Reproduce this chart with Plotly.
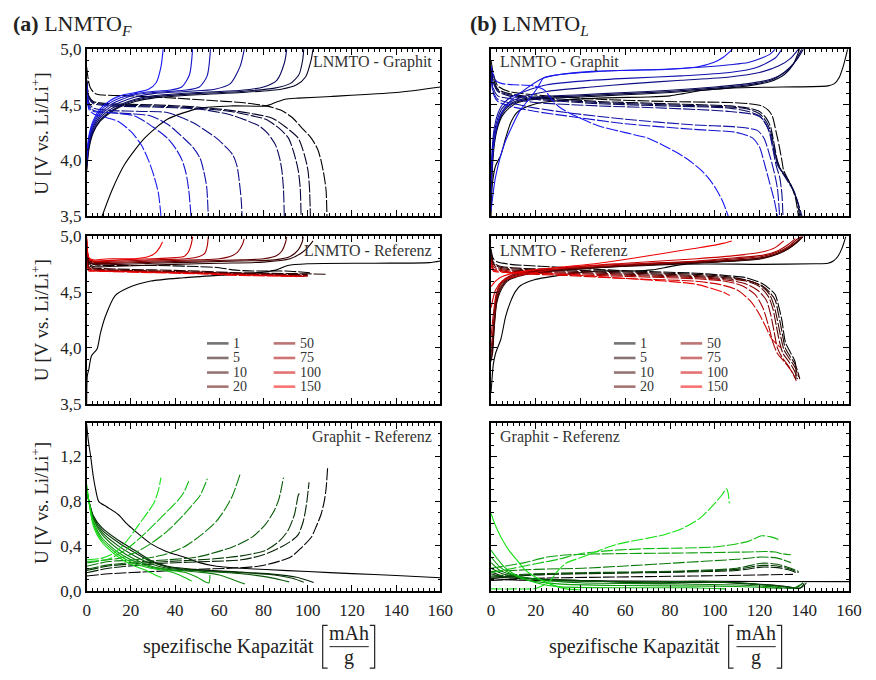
import plotly.graph_objects as go
from plotly.subplots import make_subplots

# ---------------- data ----------------
RATES = [1, 5, 10, 20, 50, 75, 100, 150]
X_TICKS = [0, 20, 40, 60, 80, 100, 120, 140, 160]
Y_TICKS_LNMTO = [3.5, 4.0, 4.5, 5.0]
Y_TICKS_GRAPHIT = [0.0, 0.4, 0.8, 1.2]
PANEL_TEXT = ["LNMTO - Graphit", "LNMTO - Referenz", "Graphit - Referenz"]

# (a) LNMTO_F - Graphit : charge (solid), discharge (dashed); one list per rate
A1_SOLID = [
    [(7,3.5),(11.4,3.73),(17.2,3.965),(26.2,4.2),(36.5,4.37),(51.3,4.47),(66,4.49),(81,4.49),(85.4,4.52),(89.8,4.55),(95.7,4.56),(110.5,4.575),(140,4.61),(160,4.66)],
    [(0,3.9),(1,4.1),(3,4.25),(6,4.35),(10,4.42),(15,4.48),(22,4.53),(30,4.56),(50,4.59),(70,4.61),(88,4.64),(95,4.68),(99,4.75),(101.5,4.9),(102.4,5.0)],
    [(0,3.92),(1,4.12),(3,4.26),(6,4.36),(10,4.43),(15,4.49),(22,4.54),(30,4.57),(50,4.6),(70,4.62),(85,4.65),(92,4.69),(96,4.77),(97.7,4.9),(98.2,5.0)],
    [(0,3.95),(1,4.14),(3,4.28),(6,4.38),(10,4.45),(15,4.5),(22,4.55),(30,4.58),(50,4.61),(70,4.63),(80,4.66),(86,4.72),(89.5,4.88),(90.5,5.0)],
    [(0,3.97),(1,4.16),(3,4.3),(6,4.4),(10,4.47),(15,4.52),(22,4.57),(30,4.6),(45,4.62),(58,4.64),(65,4.69),(69.5,4.85),(71.3,5.0)],
    [(0,4.0),(1,4.18),(3,4.32),(6,4.42),(10,4.49),(15,4.54),(22,4.59),(30,4.61),(44,4.63),(51,4.66),(54.5,4.76),(56,5.0)],
    [(0,4.0),(1,4.2),(3,4.34),(6,4.44),(10,4.51),(15,4.56),(22,4.6),(30,4.62),(37,4.63),(43,4.66),(46.5,4.77),(47.9,5.0)],
    [(0,4.02),(1,4.22),(3,4.36),(6,4.46),(10,4.53),(15,4.58),(22,4.61),(28,4.64),(31.5,4.7),(33.6,4.84),(34.6,5.0)],
]
A1_DASHED = [
    [(0,4.84),(1.5,4.66),(4,4.6),(20,4.58),(40,4.56),(55,4.54),(70,4.52),(81,4.49),(88,4.45),(92.7,4.39),(97,4.3),(101.6,4.2),(104.5,4.1),(106,4.0),(107.5,3.85),(108.3,3.73),(108.7,3.5)],
    [(0,4.72),(1,4.58),(3,4.53),(10,4.51),(30,4.5),(50,4.48),(65,4.45),(75,4.42),(84,4.38),(90,4.3),(95.7,4.2),(98.5,4.05),(100.1,3.91),(100.8,3.75),(101.2,3.5)],
    [(0,4.72),(1,4.57),(3,4.52),(10,4.5),(30,4.49),(50,4.47),(65,4.44),(75,4.4),(81,4.37),(87,4.29),(91.3,4.2),(94,4.05),(95.7,3.91),(96.6,3.75),(97,3.5)],
    [(0,4.72),(1,4.56),(3,4.51),(10,4.49),(30,4.48),(51,4.46),(65,4.41),(78,4.31),(82,4.24),(85.4,4.14),(87.3,4.02),(88.3,3.91),(89,3.75),(89.4,3.5)],
    [(0,4.7),(1,4.52),(3,4.47),(10,4.45),(25,4.44),(36.5,4.43),(48,4.34),(58.7,4.2),(63,4.12),(66.1,4.05),(68,3.95),(69,3.82),(69.9,3.65),(70.3,3.5)],
    [(0,4.7),(1,4.5),(3,4.45),(10,4.43),(20,4.42),(29,4.4),(37,4.32),(43.9,4.2),(48,4.12),(51.3,4.02),(53,3.9),(54.3,3.76),(55,3.5)],
    [(0,4.68),(1,4.48),(3,4.44),(10,4.43),(21.7,4.4),(30,4.3),(36.5,4.2),(40.5,4.1),(43.2,4.0),(45,3.88),(46.2,3.73),(47.2,3.5)],
    [(0,4.68),(1,4.46),(3,4.42),(8,4.39),(14.3,4.35),(20,4.26),(24.7,4.14),(28,4.0),(30.6,3.85),(32.5,3.7),(33.6,3.5)],
]

# (b) LNMTO_L - Graphit
B1_SOLID = [
    [(0,3.5),(0.6,3.79),(2,3.95),(4.4,4.05),(6.5,4.2),(8.8,4.34),(11.5,4.43),(14.6,4.47),(20,4.51),(26.3,4.53),(48,4.56),(70,4.57),(80,4.58),(86,4.6),(95,4.63),(106.7,4.65),(130,4.66),(150.6,4.67),(153.5,4.69),(155.5,4.74),(157.5,4.85),(159.4,5.0)],
    [(0,3.6),(0.5,3.9),(1.5,4.15),(3,4.3),(5,4.4),(8,4.47),(12,4.52),(20,4.55),(40,4.57),(60,4.59),(80,4.61),(100,4.64),(115,4.67),(125,4.71),(131,4.77),(135,4.86),(137.9,5.0)],
    [(0,3.65),(0.5,3.95),(1.5,4.18),(3,4.32),(5,4.42),(8,4.49),(12,4.53),(20,4.56),(40,4.58),(60,4.6),(80,4.62),(100,4.65),(115,4.68),(125,4.72),(131,4.79),(135.5,4.88),(138.9,5.0)],
    [(0,3.7),(0.5,4.0),(1.5,4.2),(3,4.34),(5,4.44),(8,4.5),(12,4.54),(20,4.57),(40,4.59),(60,4.61),(80,4.63),(100,4.66),(115,4.69),(125,4.73),(132,4.8),(136.5,4.9),(139.6,5.0)],
    [(0,3.75),(0.5,4.05),(1.5,4.25),(3,4.38),(5,4.47),(9,4.53),(14,4.57),(25,4.62),(45,4.66),(63,4.69),(85,4.72),(106.7,4.75),(120,4.79),(128.7,4.85),(134,4.92),(137.4,5.0)],
    [(0,3.8),(0.5,4.1),(1.5,4.3),(3,4.42),(5,4.5),(9,4.57),(15,4.62),(25,4.68),(45,4.72),(63,4.74),(85,4.76),(106.7,4.79),(118,4.83),(127,4.92),(130,5.0)],
    [(0,3.7),(0.5,4.0),(2,4.25),(4,4.4),(8,4.52),(14,4.62),(23.4,4.74),(30,4.77),(41,4.79),(60,4.81),(77.5,4.82),(95,4.84),(106.7,4.86),(115,4.88),(121,4.92),(125,4.96),(127,5.0)],
    [(0,3.55),(2,3.85),(6,4.15),(13,4.45),(17,4.55),(21,4.66),(23.4,4.74),(30,4.77),(45,4.8),(62.9,4.81),(80,4.82),(92,4.84),(99.4,4.88),(104,4.93),(108,5.0)],
]
B1_DASHED = [
    [(0,4.9),(1,4.78),(3,4.67),(8,4.62),(19,4.59),(48,4.55),(77.5,4.53),(106.7,4.52),(115,4.51),(121,4.49),(124,4.45),(125.7,4.4),(127.5,4.25),(128.7,4.14),(130,4.0),(130.8,3.91),(132.5,3.84),(133.8,3.79),(136,3.67),(137.4,3.5)],
    [(0,4.85),(1,4.74),(3,4.64),(8,4.6),(19,4.57),(48,4.53),(77.5,4.51),(106.7,4.49),(115,4.47),(120,4.44),(123,4.38),(125,4.3),(126.5,4.15),(128,4.0),(129.5,3.92),(132,3.85),(134.5,3.76),(136.5,3.65),(138,3.5)],
    [(0,4.83),(1,4.72),(3,4.63),(8,4.59),(19,4.56),(48,4.52),(77.5,4.5),(106.7,4.48),(115,4.46),(120,4.42),(123,4.35),(125,4.26),(126.5,4.12),(128,3.98),(130,3.9),(132.5,3.83),(135,3.74),(137,3.63),(138.5,3.5)],
    [(0,4.82),(1,4.7),(3,4.62),(8,4.58),(19,4.55),(48,4.51),(77.5,4.49),(106.7,4.47),(115,4.44),(120,4.4),(123,4.32),(125,4.22),(126.5,4.08),(128,3.96),(130.5,3.88),(133,3.8),(135.5,3.72),(137.5,3.6),(139,3.5)],
    [(0,4.78),(1,4.65),(3,4.58),(10,4.55),(20,4.52),(48,4.49),(77.5,4.47),(106.7,4.44),(118,4.41),(121,4.38),(124,4.28),(126,4.1),(127.5,3.95),(129,3.85),(130,3.7),(130.5,3.5)],
    [(0,4.76),(1,4.62),(3,4.55),(10,4.51),(20,4.47),(33.6,4.43),(60,4.37),(90,4.32),(110,4.3),(119,4.27),(122,4.2),(124.5,4.05),(126.5,3.9),(128,3.75),(129,3.5)],
    [(0,4.74),(1,4.6),(3,4.53),(10,4.48),(20,4.44),(33.6,4.4),(60,4.33),(90,4.28),(110,4.25),(117,4.2),(120,4.12),(122.5,3.95),(124.5,3.8),(126.5,3.65),(128,3.5)],
    [(0,4.85),(2,4.72),(5,4.69),(10,4.68),(19,4.67),(24,4.63),(27,4.55),(30.5,4.48),(36.5,4.41),(48.2,4.31),(60,4.25),(70.2,4.2),(77.5,4.13),(84,4.06),(89.2,3.99),(94,3.91),(98,3.82),(101,3.73),(103.8,3.62),(106,3.5)],
]

# (a) LNMTO_F - Referenz
A2_SOLID = [
    [(0,3.5),(0.3,3.75),(1,3.81),(2.2,3.93),(4.7,3.99),(6.2,4.13),(8.4,4.28),(12.9,4.47),(18.8,4.54),(29,4.6),(43.9,4.63),(66,4.66),(80,4.68),(86,4.7),(91,4.74),(100,4.755),(130,4.76),(155,4.765),(160,4.78)],
    [(0,4.9),(1,4.76),(3,4.73),(10,4.73),(25,4.74),(40,4.75),(60,4.76),(80,4.77),(92,4.8),(97,4.85),(100,4.9),(102.4,4.96)],
    [(0,4.92),(1,4.77),(3,4.75),(15,4.75),(30,4.76),(50,4.77),(70,4.78),(85,4.79),(92,4.82),(95.7,4.88),(97.5,4.95),(98,5.0)],
    [(0,4.95),(1,4.78),(3,4.76),(15,4.76),(30,4.77),(50,4.78),(70,4.79),(80,4.8),(86,4.83),(88.3,4.87),(90,4.95),(90.5,5.0)],
    [(0,4.95),(1,4.79),(3,4.77),(15,4.77),(30,4.78),(50,4.79),(60,4.8),(66,4.83),(68.3,4.86),(70.5,4.93),(71.3,4.98)],
    [(0,4.97),(1,4.8),(3,4.78),(15,4.78),(30,4.79),(45,4.8),(51,4.82),(53.5,4.85),(54.6,4.92),(55,5.0)],
    [(0,4.98),(1,4.8),(3,4.78),(15,4.79),(30,4.8),(40,4.81),(44,4.82),(46,4.86),(47.3,4.93),(48,5.0)],
    [(0,5.0),(1,4.81),(3,4.79),(10,4.8),(21.7,4.8),(28,4.82),(31,4.85),(33,4.9),(34.3,4.95)],
]
A2_DASHED = [
    [(0,4.9),(1,4.8),(3,4.75),(10,4.74),(30,4.74),(50,4.73),(60,4.72),(66,4.7),(75,4.69),(90,4.69),(101,4.675)],
    [(0,4.85),(1,4.74),(3,4.72),(10,4.71),(30,4.7),(50,4.69),(60,4.68),(80,4.67),(100,4.665),(109,4.66)],
    [(0,4.82),(1,4.73),(3,4.71),(10,4.7),(30,4.69),(50,4.68),(70,4.67),(90,4.66),(100,4.66)],
    [(0,4.8),(1,4.72),(3,4.71),(10,4.7),(30,4.69),(50,4.68),(70,4.665),(90,4.655),(100,4.65)],
    [(0,4.8),(1,4.72),(3,4.7),(10,4.69),(30,4.685),(50,4.675),(70,4.66),(90,4.65),(100,4.645)],
    [(0,4.78),(1,4.71),(3,4.7),(10,4.69),(30,4.68),(50,4.67),(70,4.66),(90,4.65),(100,4.645)],
    [(0,4.75),(1,4.7),(3,4.69),(10,4.69),(30,4.68),(50,4.67),(70,4.655),(90,4.645),(99,4.64)],
    [(0,4.72),(1,4.69),(3,4.69),(10,4.685),(30,4.675),(50,4.665),(70,4.65),(85,4.645),(95,4.64)],
]

# (b) LNMTO_L - Referenz
B2_SOLID = [
    [(0,3.6),(1,3.85),(2,3.95),(4.4,4.08),(6.5,4.28),(8.8,4.42),(11,4.51),(13.2,4.56),(19,4.61),(33.6,4.66),(48,4.69),(62.9,4.69),(72,4.7),(77.5,4.72),(86.3,4.75),(121,4.75),(145,4.755),(150.6,4.76),(153,4.78),(155,4.82),(157,4.9),(158.6,5.0)],
    [(0,3.88),(0.7,3.96),(1.5,4.2),(2.5,4.4),(4,4.5),(7.3,4.6),(12,4.64),(19,4.67),(48,4.72),(70,4.74),(92,4.76),(110,4.78),(121,4.8),(128,4.84),(133,4.89),(137,4.95),(139.6,5.0)],
    [(0,3.9),(0.7,4.0),(1.5,4.23),(2.5,4.42),(4,4.52),(7.3,4.61),(12,4.65),(19,4.68),(48,4.72),(70,4.745),(92,4.765),(110,4.785),(121,4.805),(128,4.845),(133,4.895),(137,4.955),(139.3,5.0)],
    [(0,3.95),(0.7,4.05),(1.5,4.27),(2.5,4.45),(4,4.54),(7.3,4.62),(12,4.66),(19,4.685),(48,4.725),(70,4.75),(92,4.77),(110,4.79),(121,4.81),(128,4.85),(133,4.9),(137,4.96),(139,5.0)],
    [(0,4.0),(0.7,4.12),(1.5,4.32),(2.5,4.48),(4,4.56),(7.3,4.63),(12,4.67),(19,4.69),(48,4.73),(70,4.755),(92,4.775),(110,4.8),(121,4.82),(128,4.86),(133,4.91),(136.5,4.97),(138.5,5.0)],
    [(0,4.1),(1,4.3),(2.5,4.5),(5,4.6),(10,4.66),(19,4.7),(48,4.74),(70,4.76),(92,4.78),(110,4.81),(121,4.83),(128,4.87),(133,4.93),(136,4.98)],
    [(0,4.36),(2,4.52),(5,4.6),(7.3,4.62),(15,4.66),(33.6,4.72),(60,4.76),(92,4.8),(110,4.83),(121,4.86),(127,4.9),(130.8,4.96)],
    [(0,4.55),(2,4.6),(5,4.64),(10,4.67),(19,4.7),(33.6,4.73),(48,4.76),(62,4.8),(77.5,4.85),(90,4.89),(99.4,4.92),(104,4.94),(107.6,4.96)],
]
B2_DASHED = [
    [(0,4.89),(1,4.8),(3,4.77),(8.8,4.75),(33.6,4.72),(62.9,4.69),(92,4.67),(105,4.65),(114,4.63),(121,4.58),(124.5,4.53),(127,4.48),(128.5,4.38),(130,4.25),(131.6,4.05),(133.8,3.96),(136,3.87),(136.3,3.72)],
    [(0,4.86),(1,4.77),(3,4.74),(8.8,4.72),(33.6,4.7),(62.9,4.68),(92,4.66),(105,4.64),(114,4.61),(121,4.56),(124.5,4.5),(127,4.43),(128.5,4.3),(130,4.15),(131.5,4.0),(133.5,3.93),(136,3.85),(137.5,3.76),(138,3.72)],
    [(0,4.84),(1,4.76),(3,4.73),(8.8,4.71),(33.6,4.69),(62.9,4.67),(92,4.65),(105,4.63),(114,4.61),(120.5,4.56),(124.5,4.48),(126.5,4.38),(128,4.25),(129.5,4.1),(131,3.98),(133.5,3.9),(136,3.82),(137.5,3.74)],
    [(0,4.82),(1,4.75),(3,4.72),(8.8,4.7),(33.6,4.68),(62.9,4.66),(92,4.64),(105,4.62),(114,4.6),(120,4.55),(124,4.46),(126,4.35),(127.5,4.2),(129,4.05),(130.5,3.95),(133,3.88),(135.5,3.8),(137,3.72)],
    [(0,4.8),(1,4.73),(3,4.71),(8.8,4.69),(33.6,4.67),(62.9,4.65),(92,4.63),(105,4.61),(113,4.58),(119,4.52),(123,4.43),(125,4.3),(126.5,4.15),(128,4.0),(130,3.92),(132.5,3.85),(135,3.77),(136.5,3.7)],
    [(0,4.78),(1,4.71),(3,4.7),(8.8,4.68),(33.6,4.66),(62.9,4.64),(92,4.62),(104,4.6),(112,4.56),(118,4.48),(121.5,4.36),(124,4.2),(126,4.05),(128,3.95),(131,3.88),(134,3.8),(136,3.73)],
    [(0,4.76),(1,4.7),(3,4.69),(8.8,4.67),(33.6,4.65),(62.9,4.62),(90,4.6),(102,4.57),(110,4.52),(116,4.42),(120,4.3),(123,4.18),(125.5,4.08),(128,4.03),(129.6,4.0)],
    [(0,4.74),(1,4.69),(5,4.68),(19,4.67),(33.6,4.66),(48,4.64),(62.9,4.62),(77.5,4.6),(92,4.57),(100.8,4.52),(104,4.5),(106.7,4.47)],
]

# (a) Graphit - Referenz : lithiation (solid), delithiation (dashed)
A3_SOLID = [
    [(0,1.49),(0.7,1.35),(1.8,1.2),(3,1.02),(4,0.91),(5.5,0.795),(9,0.75),(14.3,0.68),(18,0.6),(21.7,0.535),(29,0.42),(36,0.35),(44,0.3),(51,0.25),(58.7,0.217),(70,0.2),(81,0.188),(100,0.17),(120,0.152),(140,0.135),(160,0.115)],
    [(0,0.88),(1,0.8),(3,0.67),(7,0.56),(14.3,0.45),(21.7,0.36),(29,0.27),(36.5,0.217),(51.3,0.185),(70,0.165),(85,0.145),(95,0.12),(100,0.09),(102.7,0.072)],
    [(0,0.9),(1,0.8),(3,0.66),(7,0.54),(14.3,0.43),(21.7,0.34),(29,0.26),(36.5,0.21),(51,0.18),(70,0.16),(85,0.14),(93,0.11),(98.2,0.075)],
    [(0,0.9),(1,0.8),(3,0.65),(7,0.52),(14.3,0.4),(21.7,0.31),(29,0.24),(36.5,0.2),(51,0.175),(70,0.15),(82,0.12),(88,0.095),(91.6,0.078)],
    [(0,0.9),(1,0.8),(3,0.64),(7,0.5),(14.3,0.37),(21.7,0.28),(29,0.22),(36.5,0.19),(51,0.165),(60,0.14),(66,0.1),(71.6,0.058)],
    [(0,0.92),(1,0.8),(3,0.62),(7,0.47),(14.3,0.34),(21.7,0.26),(29,0.21),(36.5,0.185),(45,0.16),(50,0.12),(54,0.075),(55.3,0.07),(55.8,0.14)],
    [(0,0.93),(1,0.8),(3,0.6),(7,0.45),(14.3,0.32),(21.7,0.24),(29,0.2),(36.5,0.175),(42,0.14),(46,0.1),(47.5,0.085)],
    [(0,0.95),(1,0.8),(3,0.58),(7,0.43),(14.3,0.3),(21.7,0.22),(27,0.18),(31,0.14),(33.9,0.116)],
]
A3_DASHED = [
    [(0,0.13),(10,0.15),(30,0.17),(50,0.19),(65,0.2),(77.5,0.217),(85,0.25),(92.3,0.3),(97,0.38),(101.6,0.477),(104,0.58),(106,0.68),(107.5,0.8),(108.3,0.91),(109,1.1)],
    [(0,0.16),(10,0.2),(25,0.23),(36.5,0.246),(55,0.26),(70,0.275),(80,0.32),(88,0.39),(93,0.45),(95.7,0.5),(98,0.62),(99.4,0.766),(100.6,0.968)],
    [(0,0.18),(10,0.22),(25,0.245),(36.5,0.26),(55,0.28),(70,0.31),(81,0.36),(87,0.44),(91,0.535),(94,0.68),(95.7,0.85),(96.4,0.876)],
    [(0,0.19),(10,0.23),(25,0.26),(36.5,0.275),(50,0.3),(66,0.39),(75,0.48),(81,0.595),(85,0.72),(87,0.82),(89,1.01)],
    [(0,0.217),(10,0.26),(22,0.275),(35,0.32),(44,0.39),(52,0.5),(58.7,0.62),(63,0.74),(66,0.85),(69.4,1.04)],
    [(0,0.246),(7,0.27),(15,0.29),(22,0.34),(29,0.42),(37,0.54),(44,0.68),(48,0.77),(51.3,0.85),(54.6,1.0)],
    [(0,0.26),(7,0.27),(11,0.29),(18,0.37),(24.7,0.48),(31,0.6),(36.5,0.71),(41,0.8),(44,0.88),(46.2,0.98)],
    [(0,0.275),(7,0.29),(12,0.33),(15.8,0.39),(20,0.49),(24.7,0.62),(28,0.71),(30.6,0.79),(32.5,0.9),(33.6,1.01)],
]

# (b) Graphit - Referenz
B3_SOLID = [
    [(0,0.11),(5,0.1),(20,0.09),(60,0.085),(100,0.082),(160,0.08)],
    [(0,0.15),(5,0.12),(10,0.11),(25,0.1),(40,0.09),(60,0.075),(70,0.065),(85,0.07),(100,0.075),(115,0.06),(125,0.05),(132,0.035),(137,0.02),(139,0.03),(141,0.07)],
    [(0,0.17),(5,0.13),(10,0.12),(25,0.1),(40,0.09),(60,0.075),(75,0.07),(90,0.078),(105,0.075),(118,0.06),(128,0.045),(135,0.025),(138,0.02),(140,0.065)],
    [(0,0.2),(5,0.15),(10,0.13),(20,0.1),(40,0.085),(60,0.078),(80,0.08),(95,0.083),(110,0.07),(122,0.05),(132,0.03),(136,0.02),(139.5,0.07)],
    [(0,0.25),(4,0.18),(8,0.15),(20,0.1),(40,0.07),(80,0.06),(110,0.05),(125,0.035),(135,0.02),(138,0.05)],
    [(0,0.3),(4,0.21),(8,0.16),(15,0.1),(30,0.06),(60,0.045),(100,0.04),(120,0.03),(130,0.02)],
    [(0,0.36),(3,0.28),(6,0.21),(12,0.13),(20,0.07),(30,0.035),(60,0.025),(90,0.025),(105,0.015)],
    [(0,0.69),(2,0.58),(4.4,0.48),(8,0.36),(11.7,0.27),(15,0.19),(19,0.13),(26.3,0.06),(33.6,0.015),(40,0.005)],
]
B3_DASHED = [
    [(0,0.09),(20,0.11),(50,0.12),(90,0.13),(120,0.14),(135,0.145)],
    [(0,0.11),(20,0.14),(41,0.15),(85,0.165),(110,0.18),(121,0.21),(128,0.205),(134,0.18),(137,0.155)],
    [(0,0.12),(20,0.145),(41,0.155),(85,0.17),(110,0.19),(121,0.225),(128,0.22),(134,0.19),(137.5,0.16)],
    [(0,0.13),(20,0.15),(41,0.16),(85,0.175),(110,0.2),(121,0.245),(128,0.235),(134,0.2),(137.5,0.17)],
    [(0,0.17),(20,0.19),(41,0.2),(60,0.22),(85,0.25),(110,0.28),(121,0.3),(128,0.29),(134,0.25)],
    [(0,0.2),(15,0.25),(25,0.3),(35,0.32),(55,0.33),(80,0.335),(100,0.34),(115,0.345),(122,0.35),(127,0.345),(130,0.33),(134,0.32)],
    [(0,0.16),(10,0.2),(20,0.24),(30,0.28),(40,0.33),(55,0.36),(70,0.375),(85,0.38),(100,0.39),(106,0.405),(115,0.44),(121,0.49),(125,0.48),(129.4,0.45)],
    [(0,0.015),(10,0.015),(20,0.02),(26,0.08),(30,0.18),(33.6,0.246),(40.9,0.3),(55.6,0.41),(77.5,0.5),(86,0.56),(93.6,0.65),(99.4,0.766),(103,0.85),(105.3,0.91),(106,0.87),(106.5,0.78)],
]

# ---------------- styling ----------------
W, H = 876, 680
FONT = "Liberation Serif"
TXT = "#222222"
BLUE = (25, 25, 245)
RED = (240, 0, 0)
GREEN = (20, 225, 20)
MIX = [0.0, 0.15, 0.25, 0.38, 0.55, 0.7, 0.85, 1.0]


def shade(base, f, alpha=None):
    r, g, b = (int(round(c * f)) for c in base)
    if alpha is None:
        return f"rgb({r},{g},{b})"
    return f"rgba({r},{g},{b},{alpha})"


def px(x):
    return x / W


def py(y):
    return 1 - y / H


X_DOM = [[px(84.3), px(445)], [px(496.7), px(861.7)]]
Y_DOM = [[py(213), py(41.3)], [py(406), py(234)], [py(598.3), py(425.7)]]

fig = make_subplots(rows=3, cols=2)

panels = [
    (1, 1, A1_SOLID, A1_DASHED, BLUE),
    (1, 2, B1_SOLID, B1_DASHED, BLUE),
    (2, 1, A2_SOLID, A2_DASHED, RED),
    (2, 2, B2_SOLID, B2_DASHED, RED),
    (3, 1, A3_SOLID, A3_DASHED, GREEN),
    (3, 2, B3_SOLID, B3_DASHED, GREEN),
]

for row, col, solid, dashed, base in panels:
    for i, rate in enumerate(RATES):
        color = shade(base, MIX[i])
        for curves, dash in ((solid, "solid"), (dashed, "12px,2px")):
            pts = curves[i]
            fig.add_trace(
                go.Scatter(
                    x=[p[0] for p in pts],
                    y=[p[1] for p in pts],
                    mode="lines",
                    line=dict(color=color, width=1.1, dash=dash, shape="spline", smoothing=0.7),
                    showlegend=False,
                    hoverinfo="skip",
                    name=str(rate),
                ),
                row=row, col=col,
            )

axis_common = dict(
    showline=True, linecolor="black", linewidth=1.5, mirror="allticks",
    ticks="inside", ticklen=6, tickwidth=1, tickcolor="black",
    showgrid=False, zeroline=False,
    tickfont=dict(family=FONT, size=17, color=TXT),
)

for row in range(1, 4):
    for col in range(1, 3):
        idx = (row - 1) * 2 + col
        xs = "xaxis" if idx == 1 else f"xaxis{idx}"
        ys = "yaxis" if idx == 1 else f"yaxis{idx}"
        fig.layout[xs].update(
            domain=X_DOM[col - 1], range=[0, 160], tickvals=X_TICKS,
            showticklabels=(row == 3), ticklabelstandoff=3,
            minor=dict(ticks="inside", dtick=2.5, tick0=0, ticklen=3, tickcolor="black", tickwidth=1),
            **axis_common,
        )
        if row < 3:
            fig.layout[ys].update(
                domain=Y_DOM[row - 1], range=[3.5, 5.0], tickvals=Y_TICKS_LNMTO,
                tickformat=".1f", showticklabels=(col == 1),
                minor=dict(ticks="inside", dtick=0.1, tick0=3.5, ticklen=3, tickcolor="black", tickwidth=1),
                **axis_common,
            )
        else:
            fig.layout[ys].update(
                domain=Y_DOM[row - 1], range=[0, 1.5], tickvals=Y_TICKS_GRAPHIT,
                tickformat=".1f", showticklabels=(col == 1),
                minor=dict(ticks="inside", dtick=0.1, tick0=0, ticklen=3, tickcolor="black", tickwidth=1),
                **axis_common,
            )

annotations = []
shapes = []

# panel titles
annotations.append(dict(text="<b>(a)</b> LNMTO<sub><i>F</i></sub>", x=px(7), y=py(16), xref="paper", yref="paper",
                        xanchor="left", yanchor="middle", showarrow=False, font=dict(family=FONT, size=22, color=TXT)))
annotations.append(dict(text="<b>(b)</b> LNMTO<sub><i>L</i></sub>", x=px(473), y=py(16), xref="paper", yref="paper",
                        xanchor="left", yanchor="middle", showarrow=False, font=dict(family=FONT, size=22, color=TXT)))

# in-panel labels
label_y = [55, 248, 440]
for r in range(3):
    annotations.append(dict(text=PANEL_TEXT[r], x=px(438), y=py(label_y[r]), xref="paper", yref="paper",
                            xanchor="right", yanchor="middle", showarrow=False,
                            font=dict(family=FONT, size=16, color="#333333")))
    annotations.append(dict(text=PANEL_TEXT[r], x=px(504), y=py(label_y[r]), xref="paper", yref="paper",
                            xanchor="left", yanchor="middle", showarrow=False,
                            font=dict(family=FONT, size=16, color="#333333")))

# y-axis titles
for yc in (128, 320, 508):
    annotations.append(dict(text="U [V vs. Li/Li<sup>+</sup>]", x=px(37), y=py(yc), xref="paper", yref="paper",
                            xanchor="center", yanchor="middle", textangle=-90, showarrow=False,
                            font=dict(family=FONT, size=19, color=TXT)))

# x-axis titles with fraction and brackets
for tcx, fcx, bl, br in ((229, 352, 325, 378), (642.5, 767, 739, 793)):
    annotations.append(dict(text="spezifische Kapazität", x=px(tcx), y=py(656), xref="paper", yref="paper",
                            xanchor="center", yanchor="middle", showarrow=False,
                            font=dict(family=FONT, size=20, color=TXT)))
    annotations.append(dict(text="mAh", x=px(fcx), y=py(642), xref="paper", yref="paper",
                            xanchor="center", yanchor="middle", showarrow=False,
                            font=dict(family=FONT, size=20, color=TXT)))
    annotations.append(dict(text="g", x=px(fcx), y=py(667), xref="paper", yref="paper",
                            xanchor="center", yanchor="middle", showarrow=False,
                            font=dict(family=FONT, size=20, color=TXT)))
    shapes.append(dict(type="line", xref="paper", yref="paper", x0=px(fcx - 20), x1=px(fcx + 20),
                       y0=py(656), y1=py(656), line=dict(color=TXT, width=1)))
    shapes.append(dict(type="path", xref="paper", yref="paper",
                       path=f"M {px(bl+5)},{py(634)} L {px(bl)},{py(634)} L {px(bl)},{py(678)} L {px(bl+5)},{py(678)}",
                       line=dict(color=TXT, width=1.2)))
    shapes.append(dict(type="path", xref="paper", yref="paper",
                       path=f"M {px(br-5)},{py(634)} L {px(br)},{py(634)} L {px(br)},{py(678)} L {px(br-5)},{py(678)}",
                       line=dict(color=TXT, width=1.2)))

# legends (row 2, both columns), two columns of four entries
row_y = [344, 359, 374, 388.5]
for lx in (207, 622):
    for i, rate in enumerate(RATES):
        c = i // 4
        r = i % 4
        x0 = lx + c * 68
        shapes.append(dict(type="line", xref="paper", yref="paper", x0=px(x0), x1=px(x0 + 22),
                           y0=py(row_y[r]), y1=py(row_y[r]),
                           line=dict(color=shade(RED, MIX[i], 0.55), width=2.6)))
        annotations.append(dict(text=str(rate), x=px(x0 + 25), y=py(row_y[r]), xref="paper", yref="paper",
                                xanchor="left", yanchor="middle", showarrow=False,
                                font=dict(family=FONT, size=14, color="#333333")))

fig.update_layout(
    width=W, height=H,
    margin=dict(l=0, r=0, t=0, b=0),
    paper_bgcolor="white", plot_bgcolor="white",
    separators=",.",
    showlegend=False,
    annotations=annotations,
    shapes=shapes,
    font=dict(family=FONT, color=TXT),
)

fig.write_html("out.html")
